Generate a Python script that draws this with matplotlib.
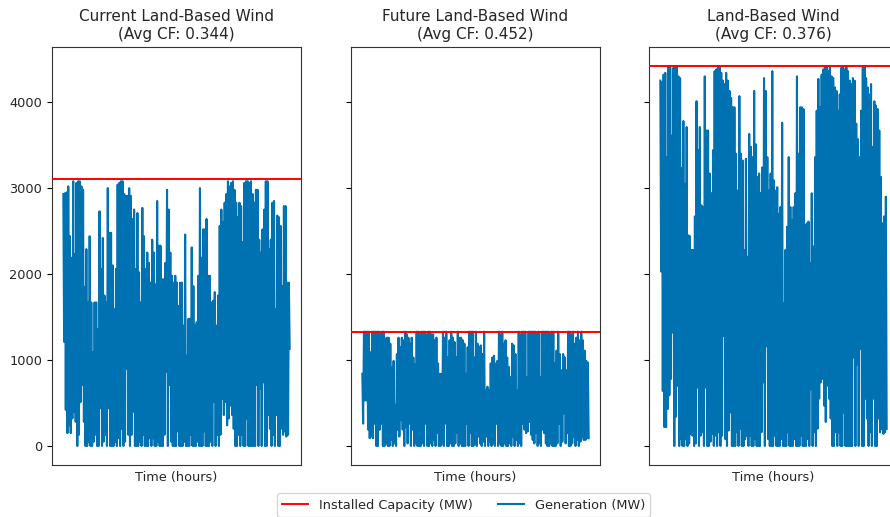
import numpy as np
import matplotlib
matplotlib.use("Agg")
import matplotlib.pyplot as plt

titles = ["Current Land-Based Wind", "Future Land-Based Wind", "Land-Based Wind"]
avg_cf = [0.344, 0.452, 0.376]
capacity_mw = [3100, 1330, 4420]

# Envelope readings (MW): per time-block maximum and minimum generation
p1_upper = [2930, 2940, 2950, 3020, 2440, 2190, 3080, 2230, 3060, 3080,
            3080, 3020, 2980, 1850, 2290, 1670, 2440, 1670, 1090, 1670,
            1670, 1360, 2730, 2060, 2420, 1750, 1670, 3000, 2480, 2480,
            2100, 1590, 2060, 3040, 3060, 3080, 3080, 2930, 2910, 2910,
            3000, 2910, 2640, 2750, 2060, 2710, 2020, 1670, 2770, 2440,
            2060, 2250, 2130, 1900, 2400, 2250, 1880, 2850, 2330, 2330,
            1940, 1940, 2130, 2980, 2750, 2250, 1980, 1900, 1980, 1900,
            1630, 1900, 1900, 1400, 2460, 1050, 1480, 1480, 2310, 1860,
            1400, 1440, 1980, 3000, 2190, 2520, 2520, 2640, 1980, 1980,
            1670, 1690, 1790, 1400, 1750, 2560, 2750, 2600, 2830, 2930,
            3080, 3020, 3060, 3080, 2980, 2830, 2660, 2830, 2790, 2370,
            3060, 3080, 3080, 3060, 3080, 2930, 2830, 2980, 2980, 2400,
            2250, 2520, 2750, 3080, 3080, 2290, 2400, 2830, 2850, 1590,
            2680, 2660, 2560, 1860, 2790, 2790, 1900, 1900]
p1_lower = [1210, 420, 150, 240, 150, 320, 400, 280, 0, 130,
            510, 710, 280, 0, 0, 50, 0, 0, 50, 130,
            0, 0, 440, 0, 50, 130, 0, 440, 0, 0,
            0, 50, 0, 90, 0, 200, 0, 50, 900, 130,
            0, 130, 400, 0, 0, 0, 50, 0, 130, 0,
            0, 0, 90, 0, 90, 0, 0, 50, 0, 0,
            0, 130, 860, 0, 710, 50, 0, 0, 0, 170,
            0, 0, 0, 50, 0, 0, 0, 130, 0, 0,
            0, 50, 0, 0, 0, 170, 0, 0, 0, 50,
            0, 510, 0, 130, 0, 130, 550, 360, 510, 240,
            320, 470, 360, 200, 0, 0, 130, 0, 130, 0,
            0, 320, 0, 0, 0, 0, 0, 710, 0, 670,
            0, 740, 0, 0, 360, 200, 0, 130, 0, 360,
            0, 0, 200, 130, 170, 110, 130, 1130]

p2_upper = [840, 1330, 1330, 1330, 1330, 1090, 1330, 1330, 1330, 1330,
            1330, 1310, 1330, 1330, 1250, 1260, 1260, 1190, 920, 990,
            480, 1070, 1260, 1150, 1260, 1230, 1330, 1300, 1260, 1190,
            1260, 1030, 950, 1330, 1330, 1300, 1330, 1330, 1330, 1300,
            1330, 1330, 1300, 1300, 1230, 1260, 960, 840, 840, 1330,
            1260, 1330, 1030, 1230, 1330, 1260, 1210, 1030, 1330, 1260,
            1260, 1230, 1190, 840, 1150, 1330, 1330, 1330, 1030, 1330,
            1190, 1150, 1170, 1070, 1330, 650, 690, 650, 960, 1030,
            1050, 960, 990, 1330, 1300, 1330, 1190, 1230, 1030, 920,
            800, 1190, 1170, 1070, 650, 1330, 1300, 1330, 1330, 1330,
            800, 1330, 1330, 1330, 1330, 1330, 1300, 1330, 800, 1330,
            1330, 1330, 1330, 1330, 1300, 1330, 1330, 960, 1110, 1330,
            1070, 880, 1070, 1030, 880, 1330, 1330, 1300, 1330, 1190,
            1260, 1330, 1230, 1330, 1230, 1110, 990, 970]
p2_lower = [260, 530, 530, 190, 90, 110, 90, 260, 0, 0,
            190, 260, 0, 0, 30, 0, 0, 70, 0, 30,
            0, 190, 110, 300, 190, 0, 220, 30, 260, 0,
            190, 0, 30, 0, 0, 0, 30, 0, 260, 0,
            0, 30, 0, 70, 0, 150, 0, 0, 30, 0,
            260, 0, 0, 30, 0, 0, 30, 150, 0, 30,
            0, 0, 0, 260, 0, 150, 0, 0, 30, 0,
            110, 30, 0, 50, 0, 110, 0, 50, 0, 30,
            0, 260, 0, 30, 0, 0, 30, 0, 0, 30,
            0, 110, 0, 70, 0, 30, 0, 260, 190, 150,
            170, 280, 130, 70, 30, 150, 0, 30, 0, 190,
            150, 30, 0, 0, 30, 0, 0, 0, 30, 260,
            0, 50, 380, 30, 150, 0, 0, 30, 110, 0,
            70, 0, 50, 110, 70, 70, 90, 90]

p3_upper = [4250, 4230, 4320, 4340, 3360, 4420, 4400, 3610, 4400, 4420,
            4400, 4300, 4280, 3230, 3780, 3050, 3710, 2450, 2440, 2280,
            2280, 2670, 4010, 3440, 3710, 2800, 2780, 4300, 3670, 3670,
            3170, 2940, 3440, 4360, 4380, 4400, 4420, 4340, 4250, 4210,
            4340, 4250, 4130, 4050, 3940, 3940, 3400, 2970, 4070, 3400,
            3320, 2280, 3340, 2200, 3630, 3480, 3360, 4130, 3510, 3130,
            3170, 2940, 3240, 4280, 4130, 3360, 2970, 3170, 4360, 3090,
            2970, 3010, 2700, 2780, 3760, 1660, 2280, 2550, 3360, 2780,
            2630, 2780, 2940, 4300, 3400, 3940, 3940, 3920, 2570, 2590,
            2610, 2130, 2940, 2320, 3360, 3900, 4270, 3940, 4320, 4380,
            4420, 4420, 4360, 4400, 4300, 4280, 4170, 4130, 3900, 4090,
            4400, 4420, 4380, 4420, 4360, 4250, 4210, 4280, 4250, 3750,
            3570, 3360, 3900, 4400, 4420, 4280, 4170, 4090, 4210, 3480,
            4010, 3960, 3920, 3670, 3130, 2590, 2670, 2900]
p3_lower = [2030, 640, 220, 220, 430, 590, 780, 1320, 0, 340,
            700, 0, 80, 0, 0, 80, 0, 30, 140, 120,
            0, 30, 680, 0, 120, 160, 0, 680, 0, 0,
            50, 140, 0, 120, 0, 160, 0, 120, 1280, 80,
            0, 180, 390, 0, 0, 0, 160, 0, 200, 0,
            0, 80, 120, 0, 120, 0, 0, 80, 0, 0,
            0, 160, 740, 0, 1160, 80, 0, 0, 0, 120,
            0, 0, 0, 80, 0, 0, 0, 160, 0, 0,
            0, 80, 0, 0, 0, 120, 0, 0, 0, 80,
            0, 660, 0, 160, 0, 200, 550, 740, 780, 470,
            280, 700, 550, 320, 0, 0, 160, 0, 160, 0,
            0, 390, 0, 0, 0, 0, 0, 1030, 0, 950,
            0, 1130, 0, 0, 550, 320, 0, 160, 0, 550,
            0, 0, 320, 160, 200, 140, 160, 200]

uppers = [p1_upper, p2_upper, p3_upper]
lowers = [p1_lower, p2_lower, p3_lower]

GEN_COLOR = "#0072B2"
TEXT_COLOR = "#262626"

fig = plt.figure(figsize=(8.9, 5.17), dpi=100)
lefts = [52 / 890, 351 / 890, 649 / 890]
w = 249 / 890
bottom = 1 - 465 / 517
h = (465 - 47) / 517
axes = []
for i, l in enumerate(lefts):
    if i == 0:
        ax = fig.add_axes([l, bottom, w, h])
    else:
        ax = fig.add_axes([l, bottom, w, h], sharey=axes[0])
    axes.append(ax)

for i, ax in enumerate(axes):
    up = np.asarray(uppers[i], dtype=float)
    lo = np.asarray(lowers[i], dtype=float)
    gen = np.empty(up.size * 2)
    gen[0::2] = up
    gen[1::2] = lo
    hours = np.arange(gen.size)
    cap_line = ax.axhline(capacity_mw[i], color="red", lw=1.4, zorder=3,
                          label="Installed Capacity (MW)")
    gen_line, = ax.plot(hours, gen, color=GEN_COLOR, lw=1.5,
                        label="Generation (MW)", zorder=2)
    ax.set_title(f"{titles[i]}\n(Avg CF: {avg_cf[i]:.3f})", fontsize=11,
                 color=TEXT_COLOR)
    ax.set_xlabel("Time (hours)", fontsize=9.3, color=TEXT_COLOR)
    ax.set_xticks([])
    ax.tick_params(axis="y", labelsize=9.3, labelcolor=TEXT_COLOR)
    for sp in ax.spines.values():
        sp.set_color("#333333")
    if i > 0:
        ax.tick_params(axis="y", labelleft=False)
    ax.set_xlim(-0.05 * (gen.size - 1), (gen.size - 1) * 1.05)

axes[0].set_ylim(-221, 4641)

leg = fig.legend([cap_line, gen_line], ["Installed Capacity (MW)", "Generation (MW)"],
                 loc="lower center", ncol=2, bbox_to_anchor=(0.521, -0.012),
                 fontsize=9.3, frameon=True)
for t in leg.get_texts():
    t.set_color(TEXT_COLOR)

fig.savefig("out.png", dpi=100)
